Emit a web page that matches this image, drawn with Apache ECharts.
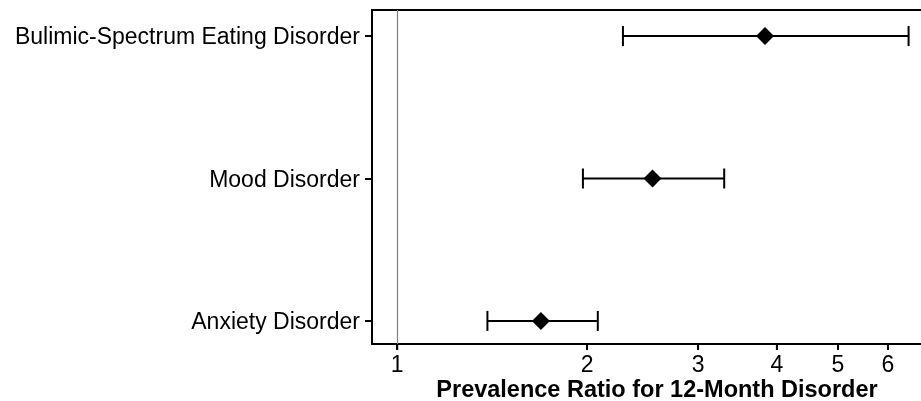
<!DOCTYPE html>
<html>
<head>
<meta charset="utf-8">
<script src="https://cdn.jsdelivr.net/npm/echarts@6/dist/echarts.min.js"></script>
<style>html,body{margin:0;padding:0;background:#fff}#c{width:921px;height:401px}</style>
</head>
<body>
<div id="c"></div>
<script>
// Categories from bottom (y=1) to top (y=3)
var categories = ['Anxiety Disorder', 'Mood Disorder', 'Bulimic-Spectrum Eating Disorder'];
var estimates = [1.69, 2.54, 3.83];
var lowerCI = [1.39, 1.97, 2.28];
var upperCI = [2.08, 3.30, 6.47];
var xTicks = [1, 2, 3, 4, 5, 6];
var xTitle = 'Prevalence Ratio for 12-Month Disorder';

var L = function (v) { return Math.log10(v); };
var FONT = '"Liberation Sans", Arial, sans-serif';
var X_MIN = 0.912, X_MAX = 6.77, Y_MIN = 0.838, Y_MAX = 3.183;

var barData = categories.map(function (c, i) { return [L(lowerCI[i]), L(upperCI[i]), i + 1]; });
var pointData = categories.map(function (c, i) { return [L(estimates[i]), i + 1]; });
var tickData = xTicks.map(function (v) { return [L(v)]; });

var chart = echarts.init(document.getElementById('c'), null, { renderer: 'canvas' });
chart.setOption({
  animation: false,
  backgroundColor: '#fff',
  title: {
    text: xTitle, left: 652, top: 374, textAlign: 'center',
    textStyle: { fontFamily: FONT, fontSize: 23.5, fontWeight: 'bold', color: '#000' }
  },
  grid: { left: 372, top: 10, right: 0, bottom: 57 },
  xAxis: [{
    type: 'value', min: L(X_MIN), max: L(X_MAX),
    axisLine: { show: true, onZero: false, lineStyle: { color: '#000', width: 2 } },
    axisTick: { show: true, length: 6, customValues: xTicks.map(L), lineStyle: { color: '#000', width: 2 } },
    axisLabel: {
      customValues: xTicks.map(L), margin: 10,
      formatter: function (v) { return String(Math.round(Math.pow(10, v))); },
      fontFamily: FONT, fontSize: 23, color: '#000'
    },
    splitLine: { show: false }
  }, {
    type: 'value', position: 'top', min: L(X_MIN), max: L(X_MAX),
    axisLine: { show: true, onZero: false, lineStyle: { color: '#000', width: 2 } },
    axisTick: { show: false }, axisLabel: { show: false }, splitLine: { show: false }
  }],
  yAxis: {
    type: 'value', min: Y_MIN, max: Y_MAX,
    axisLine: { show: true, onZero: false, lineStyle: { color: '#000', width: 2 } },
    axisTick: { show: true, length: 7, customValues: [1, 2, 3], lineStyle: { color: '#000', width: 2 } },
    axisLabel: {
      customValues: [1, 2, 3], margin: 12,
      formatter: function (v) { return '{a|' + (categories[Math.round(v) - 1] || '') + '}'; },
      rich: { a: { fontFamily: FONT, fontSize: 23, color: '#000', padding: [4, 0, 0, 0] } },
      fontFamily: FONT, fontSize: 23, color: '#000'
    },
    splitLine: { show: false }
  },
  series: [{
    type: 'custom',
    data: barData,
    renderItem: function (params, api) {
      var y = api.value(2);
      var a = api.coord([api.value(0), y]);
      var b = api.coord([api.value(1), y]);
      var h = 10;
      var st = { stroke: '#000', lineWidth: 2 };
      return {
        type: 'group',
        children: [
          { type: 'line', shape: { x1: a[0], y1: a[1], x2: b[0], y2: b[1] }, style: st },
          { type: 'line', shape: { x1: a[0], y1: a[1] - h, x2: a[0], y2: a[1] + h }, style: st },
          { type: 'line', shape: { x1: b[0], y1: b[1] - h, x2: b[0], y2: b[1] + h }, style: st }
        ]
      };
    },
    markLine: {
      silent: true, symbol: 'none', label: { show: false },
      lineStyle: { color: '#808080', width: 1.2, type: 'solid', opacity: 1 },
      data: [{ xAxis: 0 }]
    },
    z: 2
  }, {
    // x-axis tick marks placed through the axis scale
    type: 'custom',
    data: tickData,
    clip: false,
    silent: true,
    renderItem: function (params, api) {
      var p = api.coord([api.value(0), Y_MIN]);
      return { type: 'line', shape: { x1: p[0], y1: p[1], x2: p[0], y2: p[1] + 6 }, style: { stroke: '#000', lineWidth: 2 } };
    },
    z: 4
  }, {
    type: 'scatter',
    data: pointData,
    symbol: 'diamond', symbolSize: [18, 18],
    itemStyle: { color: '#000', opacity: 1 },
    z: 3
  }]
});
</script>
</body>
</html>
